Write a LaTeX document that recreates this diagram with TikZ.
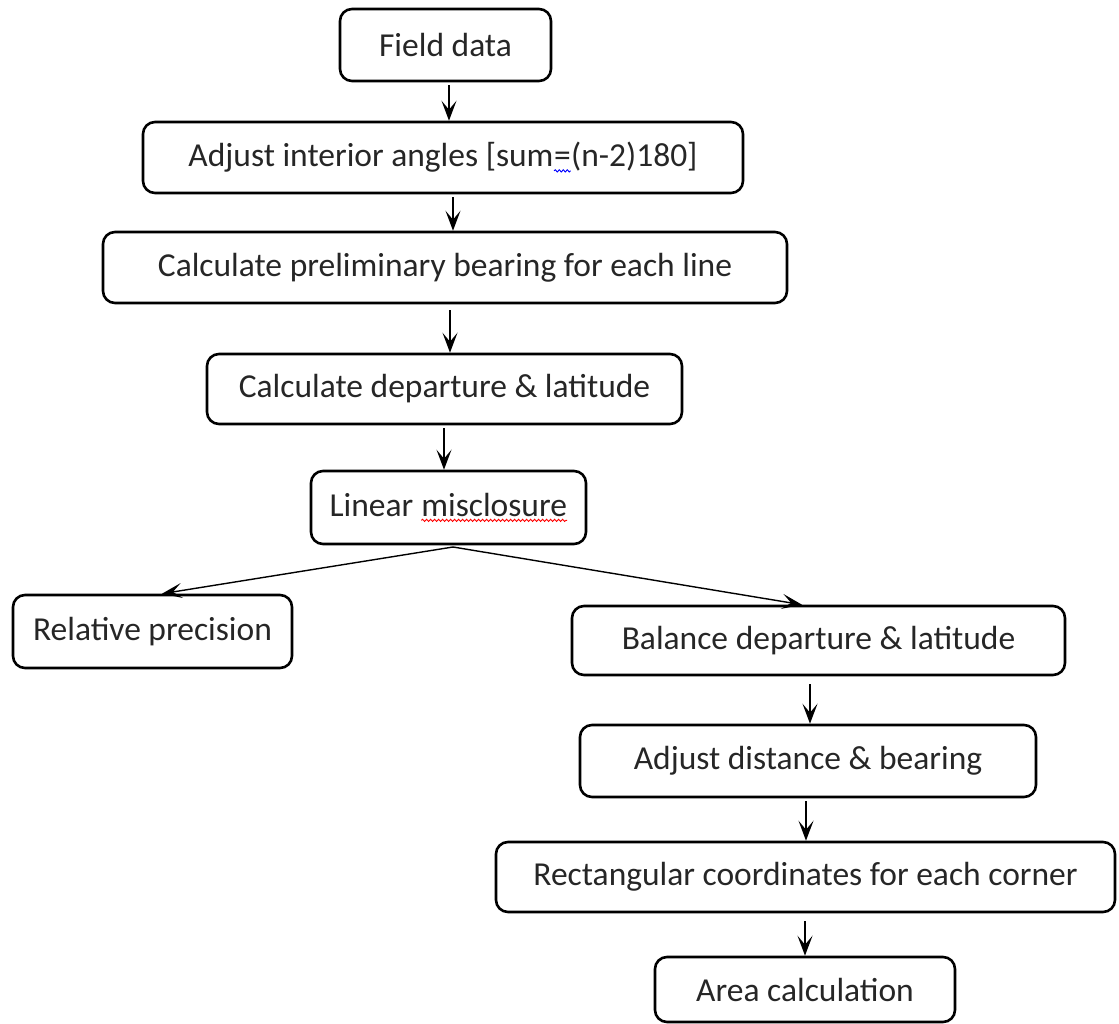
\documentclass[tikz,border=0pt]{standalone}
\usepackage{fontspec}
\setmainfont{Carlito}
\usetikzlibrary{arrows.meta,decorations.pathmorphing}
\definecolor{txt}{RGB}{38,38,38}
\tikzset{
  wavy/.style={sharp corners, line width=0.9pt, decorate,
    decoration={snake, amplitude=1.1pt, segment length=4pt}}
}
\newcommand\wavyul[2]{\tikz[baseline=(w.base)]{\node[inner sep=0pt,outer sep=0pt,
    minimum width=0pt, minimum height=0pt, draw=none, sharp corners, text=txt](w){#2};
  \draw[wavy,#1] ([yshift=-4pt]w.base west) -- ([yshift=-4pt]w.base east);}}
\begin{document}
\begin{tikzpicture}[x=1pt,y=-1pt,
  box/.style={draw, line width=2.6pt, rounded corners=12pt, inner sep=0pt,
    font=\fontsize{33.5}{38}\selectfont, text=txt},
  arr/.style={line width=1.4pt, -{Stealth[length=20pt,width=15pt,inset=9pt]}}
]
\useasboundingbox (0,0) rectangle (1119,1024);
\node[box, minimum width=211pt, minimum height=72pt] (fd) at (445.5,45) {Field data};
\node[box, minimum width=600pt, minimum height=71pt] (adj) at (443,157.5) {Adjust interior angles [sum\wavyul{blue}{=}(n-2)180]};
\node[box, minimum width=684pt, minimum height=71pt] (pre) at (445,267.5) {Calculate preliminary bearing for each line};
\node[box, minimum width=475pt, minimum height=70pt] (dep) at (444.5,389) {Calculate departure \& latitude};
\node[box, minimum width=275pt, minimum height=73pt] (lin) at (448.5,507.5) {Linear \wavyul{red}{misclosure}};
\node[box, minimum width=279pt, minimum height=73pt] (rel) at (152.5,631.5) {Relative precision};
\node[box, minimum width=493pt, minimum height=69pt] (bal) at (818.5,640.5) {Balance departure \& latitude};
\node[box, minimum width=456pt, minimum height=72pt] (adb) at (808,761) {Adjust distance \& bearing};
\node[box, minimum width=619pt, minimum height=70pt] (rec) at (805.5,877) {Rectangular coordinates for each corner};
\node[box, minimum width=300pt, minimum height=65pt] (area) at (805,989.5) {Area calculation};

\draw[arr] ([yshift=-3pt]fd.south -| 449,0) -- (adj.north -| 449,0);
\draw[arr] ([yshift=-3pt]adj.south -| 453,0) -- (pre.north -| 453,0);
\draw[arr] ([yshift=-6pt]pre.south -| 450,0) -- (dep.north -| 450,0);
\draw[arr] ([yshift=-3pt]dep.south -| 444,0) -- (lin.north -| 444,0);
\coordinate (lo) at (453,547);
\draw[arr] (lo) -- (rel.north -| 162,0);
\draw[arr] (lo) -- (bal.north -| 802,0);
\draw[arr] ([yshift=-8pt]bal.south -| 810,0) -- (adb.north -| 810,0);
\draw[arr] ([yshift=-3pt]adb.south -| 806,0) -- (rec.north -| 806,0);
\draw[arr] ([yshift=-8pt]rec.south -| 805,0) -- (area.north -| 805,0);
\end{tikzpicture}
\end{document}
